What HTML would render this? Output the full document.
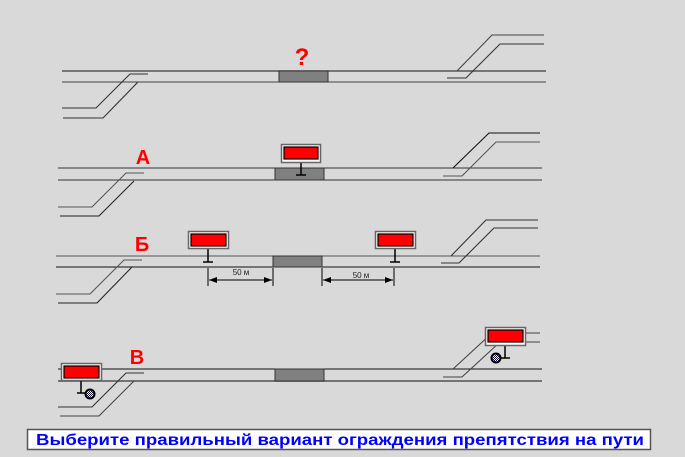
<!DOCTYPE html>
<html><head><meta charset="utf-8"><style>
html,body{margin:0;padding:0;background:#d9d9d9;}
svg{display:block;}
text{font-family:"Liberation Sans",sans-serif;}
</style></head><body>
<svg width="685" height="457" viewBox="0 0 685 457" xmlns="http://www.w3.org/2000/svg">
<defs>
<pattern id="chk" width="2" height="2" patternUnits="userSpaceOnUse"><rect width="2" height="2" fill="#fff"/><rect width="1" height="1" fill="#101040"/><rect x="1" y="1" width="1" height="1" fill="#101040"/></pattern>
<marker id="ar" markerWidth="8" markerHeight="6" refX="8" refY="3" orient="auto" markerUnits="userSpaceOnUse"><path d="M0,0 L8,3 L0,6 z" fill="#000"/></marker>
</defs>
<g fill="none" stroke-width="1.1">
<line x1="62" y1="71" x2="546" y2="71" stroke="#555" stroke-width="1.5"/>
<line x1="62" y1="82" x2="546" y2="82" stroke="#444"/>
<polyline points="148,74 130,74 96,108 62,108" stroke="#333"/>
<polyline points="138,82 103,118 63,118" stroke="#333"/>
<polyline points="544,35 492,35 457,71" stroke="#444"/>
<polyline points="544,44 500,44 466,78 447,78" stroke="#333"/>
<line x1="58" y1="168" x2="542" y2="168" stroke="#333"/>
<line x1="58" y1="180" x2="542" y2="180" stroke="#333"/>
<polyline points="144,173 126,173 92,207 58,207" stroke="#555"/>
<polyline points="134,181 99,216 60,216" stroke="#222"/>
<polyline points="540,133 489,133 453,168" stroke="#111"/>
<polyline points="540,142 496,142 462,176 443,176" stroke="#555"/>
<line x1="56" y1="256" x2="540" y2="256" stroke="#555"/>
<line x1="56" y1="267" x2="540" y2="267" stroke="#111"/>
<polyline points="142,260 124,260 90,294 56,294" stroke="#555"/>
<polyline points="132,267 97,303 58,303" stroke="#222"/>
<polyline points="538,220 486,220 451,256" stroke="#333"/>
<polyline points="538,228 494,228 459,263 441,263" stroke="#333"/>
<line x1="58" y1="369" x2="542" y2="369" stroke="#111"/>
<line x1="58" y1="381" x2="542" y2="381" stroke="#666" stroke-width="1.8"/>
<polyline points="144,373 126,373 92,407 58,407" stroke="#333"/>
<polyline points="134,381 99,416 60,416" stroke="#444"/>
<polyline points="540,333 492,333 453,369" stroke="#444"/>
<polyline points="540,342 500,342 462,377 443,377" stroke="#444"/>
</g>
<g fill="#808080" stroke="#333" stroke-width="1">
<rect x="279" y="71" width="49" height="11"/>
<rect x="275" y="168" width="49" height="12"/>
<rect x="273" y="256" width="49" height="11"/>
<rect x="275" y="369" width="49" height="12"/>
</g>
<g fill="#ff0000" font-weight="bold" font-family="Liberation Sans,sans-serif">
<text x="302" y="65" font-size="24" text-anchor="middle">?</text>
<text x="143" y="164" font-size="20" text-anchor="middle">А</text>
<text x="142" y="251" font-size="20" text-anchor="middle">Б</text>
<text x="137" y="364" font-size="20" text-anchor="middle">В</text>
</g>
<g stroke="#000" stroke-width="1.5">
<line x1="301" y1="162" x2="301" y2="175"/><line x1="296" y1="175" x2="306" y2="175"/>
<line x1="208" y1="248" x2="208" y2="262"/><line x1="203" y1="262" x2="213" y2="262"/>
<line x1="395" y1="248" x2="395" y2="262"/><line x1="390" y1="262" x2="400" y2="262"/>
<line x1="81" y1="380" x2="81" y2="393"/><line x1="77" y1="393" x2="86" y2="393"/>
<line x1="505" y1="345" x2="505" y2="358"/><line x1="500" y1="358" x2="510" y2="358"/>
</g>
<g fill="#fff" stroke="#666" stroke-width="1.5">
<rect x="281.5" y="144.5" width="39" height="18"/>
<rect x="188.5" y="231.5" width="40" height="17"/>
<rect x="375.5" y="231.5" width="40" height="17"/>
<rect x="61.5" y="363.5" width="40" height="17"/>
<rect x="485.5" y="327.5" width="40" height="18"/>
</g>
<g fill="#ff0000" stroke="#000" stroke-width="1.2">
<rect x="284" y="147" width="34" height="12"/>
<rect x="191" y="234" width="35" height="12"/>
<rect x="378" y="234" width="35" height="12"/>
<rect x="64" y="366" width="35" height="12"/>
<rect x="488" y="330" width="35" height="12"/>
</g>
<g fill="url(#chk)" stroke="#000" stroke-width="2">
<circle cx="90" cy="394" r="4.5"/>
<circle cx="496" cy="358" r="4.5"/>
</g>
<g stroke="#000" stroke-width="1">
<line x1="208" y1="268" x2="208" y2="286"/>
<line x1="273" y1="268" x2="273" y2="286"/>
<line x1="322" y1="268" x2="322" y2="286"/>
<line x1="394" y1="268" x2="394" y2="286"/>
<line x1="240" y1="280" x2="209" y2="280" marker-end="url(#ar)"/>
<line x1="240" y1="280" x2="272" y2="280" marker-end="url(#ar)"/>
<line x1="358" y1="280" x2="323" y2="280" marker-end="url(#ar)"/>
<line x1="358" y1="280" x2="393" y2="280" marker-end="url(#ar)"/>
</g>
<g font-size="8" fill="#222" text-anchor="middle">
<text x="241" y="275">50 м</text>
<text x="361" y="278">50 м</text>
</g>
<rect x="27.5" y="429.5" width="623" height="20" fill="#fff" stroke="#555" stroke-width="1.5"/>
<text x="36" y="445" font-size="16" font-weight="bold" fill="#0000ff" textLength="608" lengthAdjust="spacingAndGlyphs">Выберите правильный вариант ограждения препятствия на пути</text>
</svg>
</body></html>
